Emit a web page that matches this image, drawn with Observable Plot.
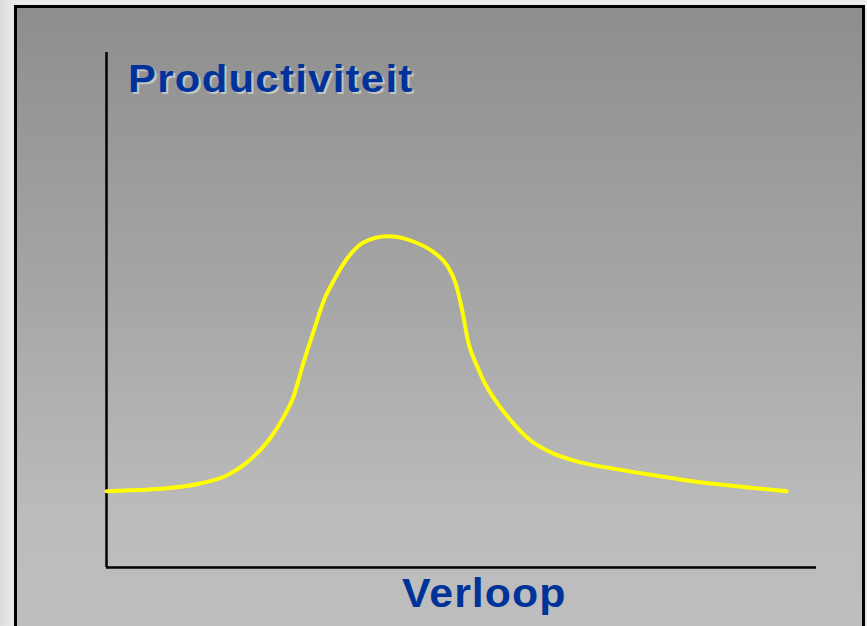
<!DOCTYPE html>
<html>
<head>
<meta charset="utf-8">
<script src="https://cdn.jsdelivr.net/npm/d3@7"></script>
<script src="https://cdn.jsdelivr.net/npm/@observablehq/plot@0.6"></script>
<style>
  html, body { margin: 0; padding: 0; }
  body { width: 867px; height: 626px; overflow: hidden; position: relative;
         background: linear-gradient(90deg, #dcdcdc 0px, #ececec 14px, #ececec 100%);
         font-family: "Liberation Sans", Arial, sans-serif; }
  #panel { position: absolute; left: 14px; top: 5px; width: 845px; height: 640px;
           border: 3px solid #000;
           background: linear-gradient(180deg, #8e8e8e 0%, #a6a6a6 45%, #bcbcbc 80%, #bebebe 100%); }
  #chart { position: absolute; left: 0; top: 0; }
  #chart svg { background: transparent; }
  .lbl { position: absolute; font-weight: bold; color: #003399; white-space: nowrap; transform-origin: 0 0; }
  #ytitle { left: 128px; top: 60px; font-size: 38px; line-height: 38px; letter-spacing: 1.2px;
            transform: scaleX(1.1); text-shadow: 2px 2px 0 #c4c4c4; }
  #xtitle { left: 402px; top: 573px; font-size: 40px; line-height: 40px; letter-spacing: 1px;
            transform: scaleX(1.07); }
</style>
</head>
<body>
<div id="panel"></div>
<div id="chart"></div>
<div class="lbl" id="ytitle">Productiviteit</div>
<div class="lbl" id="xtitle">Verloop</div>
<script>
// Course (x, arbitrary 0–100) and productivity (y, arbitrary 0–100)
const verloop = [0, 3.4, 7.7, 13.2, 17.0, 20.3, 23.1, 24.9, 26.3, 27.7, 29.2, 30.6, 32.0, 33.9, 36.2, 39.6,
  43.2, 46.1, 48.0, 49.2, 50.1, 51.0, 52.3, 53.1, 55.1, 57.3, 59.7, 63.0, 66.8, 71.4, 76.2, 80.8, 85.1, 90.7, 95.8];
const productiviteit = [14.8, 15.0, 15.3, 16.3, 17.9, 21.0, 25.2, 29.1, 33.0, 39.6, 46.0, 51.8, 55.7, 60.0, 63.1, 64.3,
  63.3, 61.2, 58.6, 55.1, 49.9, 43.5, 38.8, 36.3, 31.8, 28.0, 24.7, 22.1, 20.4, 19.2, 18.1, 17.1, 16.3, 15.5, 14.8];
const axisOrigin = [0];

const data = verloop.map((x, i) => ({x, y: productiviteit[i]}));

const chart = Plot.plot({
  width: 867,
  height: 626,
  marginLeft: 106,
  marginRight: 51,
  marginTop: 52,
  marginBottom: 59,
  x: {domain: [0, 100], axis: null},
  y: {domain: [0, 100], axis: null},
  marks: [
    Plot.ruleX(axisOrigin, {stroke: "#000", strokeWidth: 2.5}),
    Plot.ruleY(axisOrigin, {stroke: "#000", strokeWidth: 2.5}),
    Plot.line(data, {x: "x", y: "y", stroke: "#ffff00", strokeWidth: 4, curve: "monotone-x"})
  ]
});
chart.style.background = "transparent";
document.getElementById("chart").appendChild(chart);
</script>
</body>
</html>
